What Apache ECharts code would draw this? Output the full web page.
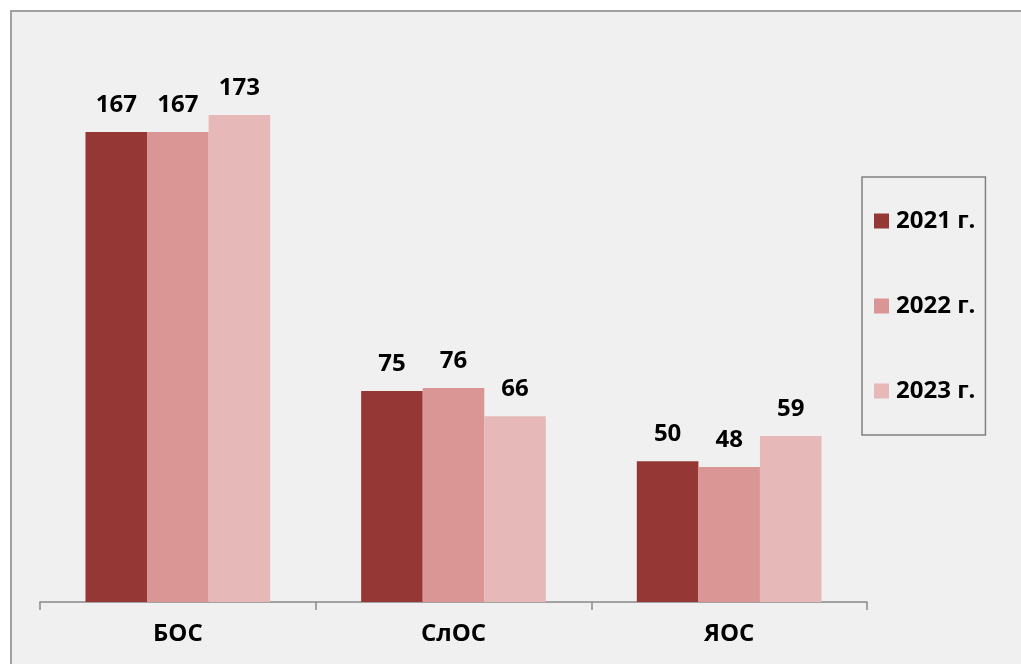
<!DOCTYPE html>
<html>
<head>
<meta charset="utf-8">
<script src="https://cdn.jsdelivr.net/npm/echarts@6/dist/echarts.min.js"></script>
<style>
  html, body { margin: 0; padding: 0; background: #fff; }
  #chart { width: 1021px; height: 664px; }
</style>
</head>
<body>
<div id="chart"></div>
<script>
// категории и значения по годам
var categories = ['БОС', 'СлОС', 'ЯОС'];
var years = ['2021 г.', '2022 г.', '2023 г.'];
var values2021 = [167, 75, 50];
var values2022 = [167, 76, 48];
var values2023 = [173, 66, 59];
var colors = ['#953735', '#d99694', '#e6b9b8'];

var font = '"Open Sans", "Noto Sans", sans-serif';

var myChart = echarts.init(document.getElementById('chart'));

function makeSeries(name, data, color) {
  return {
    name: name,
    type: 'bar',
    data: data,
    barGap: '0%',
    barCategoryGap: '33%',
    itemStyle: { color: color },
    label: {
      show: true,
      position: 'top',
      distance: 15,
      color: '#000',
      fontFamily: font,
      fontWeight: 'bold',
      fontSize: 24
    }
  };
}

myChart.setOption({
  animation: false,
  backgroundColor: '#fff',
  graphic: [{
    type: 'rect',
    left: 10,
    top: 10,
    shape: { width: 1030, height: 680 },
    style: { fill: '#f0f0f0', stroke: '#a0a0a0', lineWidth: 2 },
    z: -10
  }],
  grid: {
    left: 40,
    right: 1021 - 867,
    top: 39,
    bottom: 664 - 602
  },
  legend: {
    orient: 'vertical',
    left: 862,
    top: 177,
    padding: [32, 10, 32, 12],
    itemGap: 61,
    itemWidth: 15,
    itemHeight: 15,
    icon: 'rect',
    borderColor: '#808080',
    borderWidth: 1.5,
    textStyle: {
      color: '#000',
      fontFamily: font,
      fontWeight: 'bold',
      fontSize: 24,
      padding: [0, 0, 0, 2]
    },
    data: years
  },
  xAxis: {
    type: 'category',
    data: categories,
    axisLine: { lineStyle: { color: '#888', width: 1.5 } },
    axisTick: { show: true, length: 8, lineStyle: { color: '#888', width: 1.5 } },
    axisLabel: {
      color: '#000',
      fontFamily: font,
      fontWeight: 'bold',
      fontSize: 24,
      margin: 20
    }
  },
  yAxis: {
    type: 'value',
    min: 0,
    max: 200,
    show: false,
    splitLine: { show: false }
  },
  series: [
    makeSeries(years[0], values2021, colors[0]),
    makeSeries(years[1], values2022, colors[1]),
    makeSeries(years[2], values2023, colors[2])
  ]
});
</script>
</body>
</html>
